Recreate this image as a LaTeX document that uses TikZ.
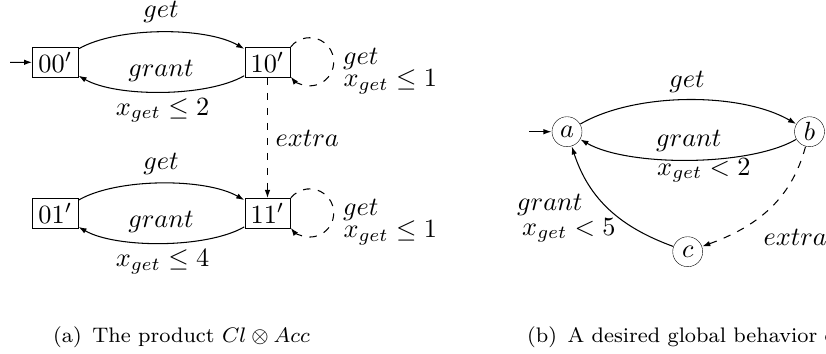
\documentclass[tikz,border=0pt]{standalone}
\usetikzlibrary{arrows.meta}
\tikzset{
  st/.style={draw, rectangle, scale=2.63, minimum width=17.3pt, minimum height=11.4pt, inner sep=0pt},
  cs/.style={draw, circle, scale=2.63, minimum size=11.4pt, inner sep=0pt},
  lbl/.style={scale=2.63, inner sep=0pt},
  captxt/.style={lbl, font=\fontsize{8}{10}\selectfont},
  arr/.style={line width=1.05pt, -{Latex[length=8pt,width=5.5pt]}},
  darr/.style={arr, dash pattern=on 7.5pt off 7.5pt},
}
\begin{document}
\begin{tikzpicture}[x=1pt,y=1pt]
\clip (0,0) rectangle (826,-353);
% left: product automaton
\node[st] (n00) at (55.3,-62.3) {$00'$};
\node[st] (n10) at (267.5,-62.3) {$10'$};
\node[st] (n01) at (55.3,-213.5) {$01'$};
\node[st] (n11) at (267.5,-213.5) {$11'$};
\coordinate (i0) at (10,-62.3);
\draw[arr] (i0) -- (n00);
\draw[arr] (n00) to[out=30,in=150,looseness=0.69] (n10);
\draw[arr] (n10) to[out=-150,in=-30,looseness=0.67] (n00);
\draw[darr] (n10.north east) arc[start angle=141.6,end angle=-141.6,radius=24.1];
\draw[darr] (n10) -- (n11);
\draw[arr] (n01) to[out=30,in=150,looseness=0.69] (n11);
\draw[arr] (n11) to[out=-150,in=-30,looseness=0.67] (n01);
\draw[darr] (n11.north east) arc[start angle=141.6,end angle=-141.6,radius=24.1];
\node[lbl, anchor=base] (l1) at (161,-18) {$get$};
\node[lbl, anchor=base] (l2) at (161,-76) {$grant$};
\node[lbl, anchor=base] (l3) at (162.5,-115) {$x_{get}\leq 2$};
\node[lbl, anchor=base west] (l4) at (342.7,-64.2) {$get$};
\node[lbl, anchor=base west] (l5) at (343,-86.7) {$x_{get}\leq 1$};
\node[lbl, anchor=base west] (l6) at (275,-146.5) {$extra$};
\node[lbl, anchor=base] (l7) at (161,-169.2) {$get$};
\node[lbl, anchor=base] (l8) at (161,-227.2) {$grant$};
\node[lbl, anchor=base] (l9) at (162.5,-266.2) {$x_{get}\leq 4$};
\node[lbl, anchor=base west] (l10) at (342.7,-215.4) {$get$};
\node[lbl, anchor=base west] (l11) at (343,-237.9) {$x_{get}\leq 1$};
% right: desired behaviour
\node[cs] (a) at (567,-131.7) {$a$};
\node[cs] (b) at (809.5,-131.7) {$b$};
\node[cs] (c) at (687.7,-251.7) {$c$};
\coordinate (ia) at (529,-131.7);
\draw[arr] (ia) -- (a);
\draw[arr] (a) to[out=30,in=150,looseness=0.76] (b);
\draw[arr] (b) to[out=-150,in=-30,looseness=0.65] (a);
\draw[darr] (b) to[out=-105,in=20] (c);
\draw[arr] (c) to[out=160,in=-72] (a);
\node[lbl, anchor=base] (r1) at (687,-87) {$get$};
\node[lbl, anchor=base west] (r2) at (655.7,-146) {$grant$};
\node[lbl, anchor=base west] (r3) at (656.7,-175) {$x_{get}<2$};
\node[lbl, anchor=base west] (r4) at (516.7,-210) {$grant$};
\node[lbl, anchor=base west] (r5) at (521.7,-235) {$x_{get}<5$};
\node[lbl, anchor=base west] (r6) at (763,-245) {$extra$};
% captions
\node[captxt, anchor=base west] (capa) at (52.7,-342) {(a)\enspace The product $Cl\otimes Acc$};
\node[captxt, anchor=base west] (capb) at (526.7,-342) {(b)\enspace A desired global behavior of};
\end{tikzpicture}
\end{document}
